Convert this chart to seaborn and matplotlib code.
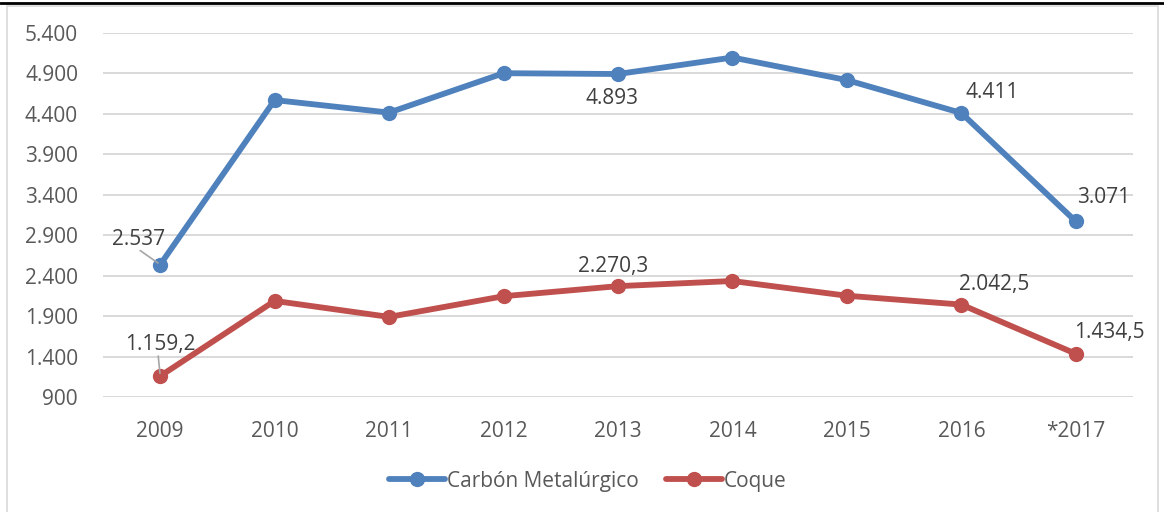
import pandas as pd
import numpy as np
import matplotlib
matplotlib.use('Agg')
import matplotlib.pyplot as plt
import seaborn as sns
from matplotlib.ticker import FuncFormatter
from matplotlib.patches import Rectangle
from matplotlib.lines import Line2D

years = ['2009', '2010', '2011', '2012', '2013', '2014', '2015', '2016', '*2017']
carbon = [2537, 4571, 4416, 4903, 4893, 5097, 4818, 4411, 3071]
coque = [1159.2, 2088, 1890, 2146, 2270.3, 2334, 2152, 2042.5, 1434.5]

series_names = ['Carbón Metalúrgico', 'Coque']
colors = ['#4F81BD', '#C0504D']

# value labels shown on the chart (year index -> text)
labels_carbon = {0: '2.537', 4: '4.893', 7: '4.411', 8: '3.071'}
labels_coque = {0: '1.159,2', 4: '2.270,3', 7: '2.042,5', 8: '1.434,5'}

y_ticks = [900, 1400, 1900, 2400, 2900, 3400, 3900, 4400, 4900, 5400]

df = pd.DataFrame({
    'year': years * 2,
    'value': carbon + coque,
    'serie': [series_names[0]] * len(years) + [series_names[1]] * len(years),
})

sns.set_style('white')
plt.rcParams['font.family'] = ['Open Sans', 'DejaVu Sans']

fig = plt.figure(figsize=(11.64, 5.12), dpi=100)
ax = fig.add_axes([103 / 1164, 1 - 397 / 512, 1030 / 1164, 364 / 512])

sns.lineplot(data=df, x='year', y='value', hue='serie', palette=colors,
             sort=False, linewidth=4.2, marker='o', markersize=11,
             markeredgewidth=0, legend=False, ax=ax)

ax.set_xlim(-0.5, len(years) - 0.5)
ax.set_ylim(y_ticks[0], y_ticks[-1])
ax.set_yticks(y_ticks)
ax.yaxis.set_major_formatter(FuncFormatter(lambda v, p: f'{int(v):,}'.replace(',', '.')))
ax.grid(axis='y', color='#D9D9D9', linewidth=1.4)
ax.set_axisbelow(True)
for s in ax.spines.values():
    s.set_visible(False)
ax.tick_params(axis='both', length=0, labelsize=15, colors='#595959')
ax.tick_params(axis='x', pad=17)
ax.tick_params(axis='y', pad=18)
ax.set_xlabel('')
ax.set_ylabel('')

offs_carbon = {0: (-22, 25), 4: (-6, -24), 7: (31, 20), 8: (28, 24)}
offs_coque = {0: (0, 32), 4: (-5, 20), 7: (33, 20), 8: (34, 21)}

for vals, labs, offs in [(carbon, labels_carbon, offs_carbon), (coque, labels_coque, offs_coque)]:
    for i, txt in labs.items():
        ax.annotate(txt, xy=(i, vals[i]), xytext=offs[i], textcoords='offset pixels',
                    ha='center', va='center', fontsize=15, color='#404040')

# leader lines for the 2009 labels
ax.annotate('', xy=(0, carbon[0]), xytext=(-20, 14), textcoords='offset pixels',
            arrowprops=dict(arrowstyle='-', color='#A6A6A6', lw=1.2, shrinkA=0, shrinkB=2))
ax.annotate('', xy=(0, coque[0]), xytext=(-2, 20), textcoords='offset pixels',
            arrowprops=dict(arrowstyle='-', color='#A6A6A6', lw=1.2, shrinkA=0, shrinkB=2))

handles = [Line2D([], [], color=c, lw=4.2, marker='o', markersize=11, markeredgewidth=0)
           for c in colors]
fig.legend(handles, series_names, loc='center', bbox_to_anchor=(0.505, 1 - 481 / 512),
           ncol=2, frameon=False, fontsize=15, handlelength=2.7, handletextpad=0.1,
           columnspacing=1.3, labelcolor='#595959')

# chart frame and top rule
fig.add_artist(Rectangle((7 / 1164, -0.1), 1151 / 1164, 1.1 - 6 / 512,
                         transform=fig.transFigure, fill=False, edgecolor='#D9D9D9', lw=1.2))
fig.add_artist(Line2D([0, 1], [1 - 3 / 512, 1 - 3 / 512], transform=fig.transFigure,
                      color='black', lw=2))

fig.savefig('out.png', dpi=100)
